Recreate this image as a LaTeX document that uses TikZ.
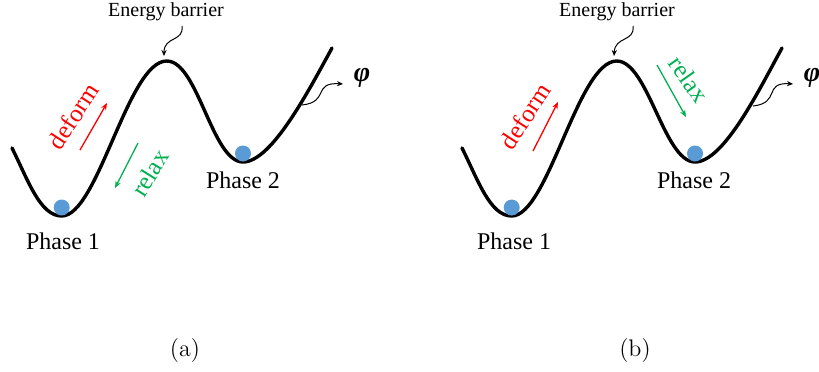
\documentclass[tikz,border=0pt]{standalone}
\usepackage{fontspec}
\newfontfamily\tnr{Liberation Serif}
\usetikzlibrary{arrows.meta}
\definecolor{ballblue}{HTML}{5B9BD5}
\definecolor{relaxgreen}{HTML}{00B050}
\definecolor{deformred}{HTML}{FF0000}
\begin{document}
\begin{tikzpicture}[x=0.5pt,y=-0.5pt,
  landscape/.style={line width=1.7pt,line cap=round},
  ball/.style={circle,fill=ballblue,minimum size=8pt,inner sep=0pt},
  phaselabel/.style={font=\tnr\fontsize{12}{14}\selectfont,inner sep=0pt},
  smalllabel/.style={font=\tnr\fontsize{10}{12}\selectfont,inner sep=0pt},
  movelabel/.style={font=\tnr\fontsize{12.5}{14}\selectfont,inner sep=0pt},
  philabel/.style={font=\tnr\bfseries\itshape\fontsize{14}{16}\selectfont,inner sep=0pt},
  movearrow/.style={line width=0.65pt,-{Stealth[length=3.5pt,width=2.8pt]}},
  pointer/.style={line width=0.5pt,-{Stealth[length=3pt,width=2.6pt]}},
  caption/.style={font=\fontsize{12}{14}\selectfont,inner sep=0pt}]
\useasboundingbox (0,0) rectangle (819,371);

% ---------- panel (a) ----------
\draw[landscape] (12,148) .. controls (28,180) and (40,216) .. (61.7,216)
  .. controls (98,216) and (128,61) .. (166.7,61)
  .. controls (198,61) and (212,162) .. (243,162)
  .. controls (272,162) and (310,88) .. (332,48);
\node[ball] (ba1) at (61.7,207.5) {};
\node[ball] (ba2) at (243,153.5) {};
\node[phaselabel] (pa1) at (63,241) {Phase 1};
\node[phaselabel] (pa2) at (243,180) {Phase 2};
\node[smalllabel] (eba) at (166,12) {Energy barrier};
\coordinate (ebas) at (182,26);
\coordinate (ebae) at (164,56);
\draw[pointer] (ebas) .. controls (184,42) and (164,36) .. (ebae);
\node[philabel] (phia) at (362,78) {φ};
\coordinate (phias) at (302,105);
\coordinate (phiae) at (343,84);
\draw[pointer] (phias) .. controls (330,102) and (312,82) .. (phiae);
\node[movelabel,text=deformred,rotate=57] (dfa) at (73,116) {deform};
\coordinate (dfas) at (80,150);
\coordinate (dfae) at (107,103);
\draw[movearrow,deformred] (dfas) -- (dfae);
\node[movelabel,text=relaxgreen,rotate=58] (rla) at (150,173) {relax};
\coordinate (rlas) at (138,143);
\coordinate (rlae) at (115,188);
\draw[movearrow,relaxgreen] (rlas) -- (rlae);
\node[caption] (capa) at (185,351) {(a)};

% ---------- panel (b) ----------
\begin{scope}[xshift=225pt]
\draw[landscape] (12,148) .. controls (28,180) and (40,216) .. (61.7,216)
  .. controls (98,216) and (128,61) .. (166.7,61)
  .. controls (198,61) and (214,162) .. (245,162)
  .. controls (274,162) and (310,88) .. (332,48);
\end{scope}
\node[ball] (bb1) at (511.7,207.5) {};
\node[ball] (bb2) at (695,153.5) {};
\node[phaselabel] (pb1) at (514,241) {Phase 1};
\node[phaselabel] (pb2) at (694,180) {Phase 2};
\node[smalllabel] (ebb) at (617,12) {Energy barrier};
\coordinate (ebbs) at (633,26);
\coordinate (ebbe) at (614,56);
\draw[pointer] (ebbs) .. controls (635,42) and (615,36) .. (ebbe);
\node[philabel] (phib) at (812,78) {φ};
\coordinate (phibs) at (753,106);
\coordinate (phibe) at (793,84);
\draw[pointer] (phibs) .. controls (781,103) and (763,82) .. (phibe);
\node[movelabel,text=deformred,rotate=57] (dfb) at (525,116) {deform};
\coordinate (dfbs) at (533,151);
\coordinate (dfbe) at (558,102);
\draw[movearrow,deformred] (dfbs) -- (dfbe);
\node[movelabel,text=relaxgreen,rotate=-55] (rlb) at (689,79) {relax};
\coordinate (rlbs) at (657,65);
\coordinate (rlbe) at (686,117);
\draw[movearrow,relaxgreen] (rlbs) -- (rlbe);
\node[caption] (capb) at (635,351) {(b)};
\end{tikzpicture}
\end{document}
